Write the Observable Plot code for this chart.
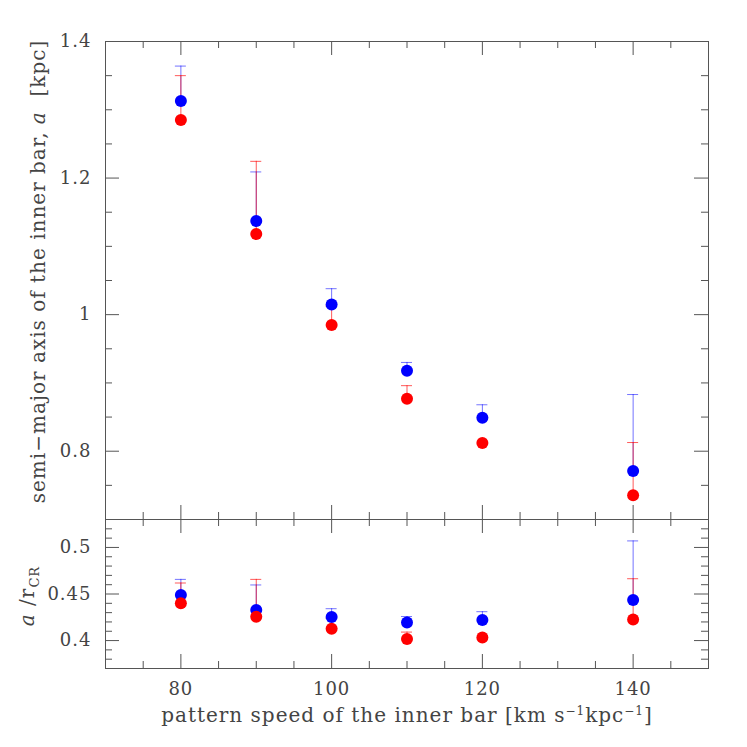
<!DOCTYPE html>
<html><head><meta charset="utf-8">
<script src="https://cdn.jsdelivr.net/npm/d3@7"></script>
<script src="https://cdn.jsdelivr.net/npm/@observablehq/plot@0.6"></script>
<style>
body{margin:0;background:#fff}
#chart svg{display:block;overflow:visible}
</style>
</head><body><div id="chart"></div>
<script>
// ---- data ----
const speeds   = [80, 90, 100, 110, 120, 140];
const aBlue    = [1.313, 1.137, 1.015, 0.918, 0.849, 0.771];
const aBlueHi  = [1.364, 1.209, 1.038, 0.930, 0.868, 0.883];
const aRed     = [1.285, 1.118, 0.985, 0.877, 0.812, 0.7355];
const aRedHi   = [1.350, 1.2245, 1.0125, 0.896, null, 0.8127];
const rBlue    = [0.449, 0.4328, 0.4253, 0.4195, 0.422, 0.4435];
const rBlueHi  = [0.4657, 0.4597, 0.4342, 0.4258, 0.431, 0.507];
const rRed     = [0.440, 0.4256, 0.4127, 0.4016, 0.4033, 0.4227];
const rRedHi   = [0.4618, 0.4657, 0.424, 0.4091, null, 0.4664];

const xMajor = [80, 100, 120, 140];
const xMinor = [75, 85, 90, 95, 105, 110, 115, 125, 130, 135, 145];
const aMajor = [0.8, 1.0, 1.2, 1.4];
const aMinor = [0.75, 0.85, 0.9, 0.95, 1.05, 1.1, 1.15, 1.25, 1.3, 1.35];
const rMajor = [0.4, 0.45, 0.5];
const rMinor = [0.38, 0.39, 0.41, 0.42, 0.43, 0.44, 0.46, 0.47, 0.48, 0.49, 0.51, 0.52];

const yLabelTop = "semi\u2212major axis of the inner bar, a  [kpc]";
const yLabelBot = "a /rCR";
const xLabel = "pattern speed of the inner bar [km s-1kpc-1]";

// ---- layout ----
const W = 747, ML = 105, MR = 39, FW = W - ML - MR;
const TICK = "#555";
const INK = "#444";
const FONT = "DejaVu Serif";

const rows = (vals, his) => speeds.map((x, i) => ({x, v: vals[i], hi: his[i]}));

function frameTicks(FH, yMaj, yMin) {
  const m = [];
  for (const [vals, len] of [[xMajor, 14], [xMinor, 7]]) {
    m.push(Plot.tickX(vals, {x: d => d, insetTop: FH - len, stroke: TICK}));
    m.push(Plot.tickX(vals, {x: d => d, insetBottom: FH - len, stroke: TICK}));
  }
  for (const [vals, len] of [[yMaj, 14], [yMin, 7]]) {
    m.push(Plot.tickY(vals, {y: d => d, insetRight: FW - len, stroke: TICK}));
    m.push(Plot.tickY(vals, {y: d => d, insetLeft: FW - len, stroke: TICK}));
  }
  return m;
}

function errMarks(data, color, op) {
  const d = data.filter(r => r.hi != null);
  return [
    Plot.ruleX(d, {x: "x", y1: "v", y2: "hi", stroke: color, strokeOpacity: op}),
    Plot.ruleY(d, {y: "hi", x1: r => r.x - 0.73, x2: r => r.x + 0.73, stroke: color, strokeOpacity: op})
  ];
}

function dots(data, color) {
  return Plot.dot(data, {x: "x", y: "v", r: 6, fill: color, stroke: null});
}

const style = {fontFamily: FONT, fontSize: "18px", color: INK, background: "#fff", letterSpacing: "1px"};
const labelOpts = {fontSize: 20, fill: INK, textAnchor: "middle", lineAnchor: "middle"};

const topH = 519, topMT = 41;
const plotTop = Plot.plot({
  width: W, height: topH,
  marginLeft: ML, marginRight: MR, marginTop: topMT, marginBottom: 0,
  style,
  x: {domain: [70, 150], axis: null},
  y: {domain: [0.7, 1.4], axis: null},
  marks: [
    Plot.frame({stroke: TICK}),
    ...frameTicks(topH - topMT, aMajor, aMinor),
    Plot.axisY(aMajor, {tickSize: 0, tickPadding: 14, tickFormat: d => d === 1 ? "1" : String(d), label: null, fill: INK}),
    ...errMarks(rows(aBlue, aBlueHi), "blue", 0.55),
    ...errMarks(rows(aRed, aRedHi), "red", 0.65),
    dots(rows(aBlue, aBlueHi), "blue"),
    dots(rows(aRed, aRedHi), "red"),
    Plot.text([yLabelTop], {...labelOpts, text: d => d, frameAnchor: "left", dx: -67, dy: -9, rotate: -90})
  ]
});

const botH = 228, botMB = 79;
const plotBot = Plot.plot({
  width: W, height: botH,
  marginLeft: ML, marginRight: MR, marginTop: 0, marginBottom: botMB,
  style,
  x: {domain: [70, 150], axis: null},
  y: {domain: [0.37, 0.53], axis: null},
  marks: [
    Plot.frame({stroke: TICK}),
    ...frameTicks(botH - botMB, rMajor, rMinor),
    Plot.axisY(rMajor, {tickSize: 0, tickPadding: 14, tickFormat: d => String(d), label: null, fill: INK}),
    Plot.axisX(xMajor, {tickSize: 0, tickPadding: 14, tickFormat: d => String(d), label: null, fill: INK}),
    ...errMarks(rows(rBlue, rBlueHi), "blue", 0.55),
    ...errMarks(rows(rRed, rRedHi), "red", 0.65),
    dots(rows(rBlue, rBlueHi), "blue"),
    dots(rows(rRed, rRedHi), "red"),
    Plot.text([yLabelBot], {...labelOpts, text: d => d, frameAnchor: "left", dx: -78, dy: 2, rotate: -90}),
    Plot.text([xLabel], {...labelOpts, text: d => d, frameAnchor: "bottom", dy: 47, letterSpacing: "1.5px"})
  ]
});

// rich text (italic, sub/superscripts) on the labels Plot drew
function rich(svg, match, html) {
  svg.querySelectorAll("text").forEach(t => { if (t.textContent === match) t.innerHTML = html; });
}
rich(plotTop, yLabelTop, "semi\u2212major axis of the inner bar, <tspan font-style='italic'>a</tspan>  [kpc]");
rich(plotBot, yLabelBot, "<tspan font-style='italic'>a</tspan> /r<tspan dy='5' font-size='13'>CR</tspan>");
rich(plotBot, xLabel, "pattern speed of the inner bar [km s<tspan dy='-7' font-size='12'>\u22121</tspan><tspan dy='7'>kpc</tspan><tspan dy='-7' font-size='12'>\u22121</tspan><tspan dy='7'>]</tspan>");

document.getElementById("chart").append(plotTop, plotBot);
</script>
</body></html>
